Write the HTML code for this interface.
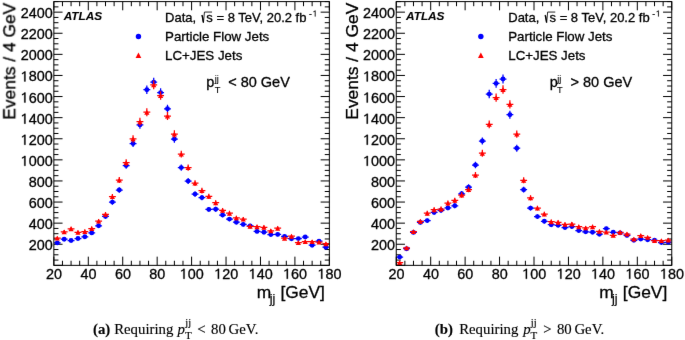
<!DOCTYPE html>
<html><head><meta charset="utf-8"><style>
*{margin:0;padding:0}
html,body{width:685px;height:340px;background:#fff;overflow:hidden}
svg{display:block;will-change:transform}
text{font-family:"Liberation Sans",sans-serif;fill:#000;stroke:#000;stroke-width:0.3px}
.tl{font-size:14.4px}
.at{font-size:17.4px}
.sub{font-size:12.5px;stroke-width:0.2px}
.atlas{font-size:11.8px;font-weight:bold;font-style:italic;stroke-width:0.1px}
.lg{font-size:13px}
.lg2{font-size:13.3px}
.sup{font-size:8.6px;stroke-width:0.15px}
.pl{font-size:14.5px}
.ss{font-size:9.2px;stroke-width:0.1px}
.ssT{font-size:9.3px;stroke-width:0.1px}
.cap{font-family:"Liberation Serif",serif;font-size:14.8px;stroke-width:0.15px}
.b{font-weight:bold}
.i{font-style:italic}
.cs{font-family:"Liberation Serif",serif;font-size:10.5px;stroke-width:0.15px}
.cT{font-family:"Liberation Serif",serif;font-size:11px;stroke-width:0.15px}
</style></head>
<body><svg width="685" height="340" viewBox="0 0 685 340">
<filter id="bl" x="0" y="0" width="685" height="340" filterUnits="userSpaceOnUse" color-interpolation-filters="sRGB"><feConvolveMatrix order="3" kernelMatrix="0.0035 0.0587 0.0035 0.0587 1 0.0587 0.0035 0.0587 0.0035" edgeMode="duplicate"/></filter>
<rect width="685" height="340" fill="#fff"/>
<g filter="url(#bl)">
<rect width="685" height="340" fill="#fff"/>
<clipPath id="c53"><rect x="53.85" y="1.6" width="275.5" height="263.75"/></clipPath>
<path d="M53.85 265.35v-8.7M53.85 1.6v8.7M62.46 265.35v-4.6M62.46 1.6v4.6M71.07 265.35v-4.6M71.07 1.6v4.6M79.68 265.35v-4.6M79.68 1.6v4.6M88.29 265.35v-8.7M88.29 1.6v8.7M96.9 265.35v-4.6M96.9 1.6v4.6M105.51 265.35v-4.6M105.51 1.6v4.6M114.12 265.35v-4.6M114.12 1.6v4.6M122.72 265.35v-8.7M122.72 1.6v8.7M131.33 265.35v-4.6M131.33 1.6v4.6M139.94 265.35v-4.6M139.94 1.6v4.6M148.55 265.35v-4.6M148.55 1.6v4.6M157.16 265.35v-8.7M157.16 1.6v8.7M165.77 265.35v-4.6M165.77 1.6v4.6M174.38 265.35v-4.6M174.38 1.6v4.6M182.99 265.35v-4.6M182.99 1.6v4.6M191.6 265.35v-8.7M191.6 1.6v8.7M200.21 265.35v-4.6M200.21 1.6v4.6M208.82 265.35v-4.6M208.82 1.6v4.6M217.43 265.35v-4.6M217.43 1.6v4.6M226.04 265.35v-8.7M226.04 1.6v8.7M234.65 265.35v-4.6M234.65 1.6v4.6M243.26 265.35v-4.6M243.26 1.6v4.6M251.87 265.35v-4.6M251.87 1.6v4.6M260.48 265.35v-8.7M260.48 1.6v8.7M269.08 265.35v-4.6M269.08 1.6v4.6M277.69 265.35v-4.6M277.69 1.6v4.6M286.3 265.35v-4.6M286.3 1.6v4.6M294.91 265.35v-8.7M294.91 1.6v8.7M303.52 265.35v-4.6M303.52 1.6v4.6M312.13 265.35v-4.6M312.13 1.6v4.6M320.74 265.35v-4.6M320.74 1.6v4.6M329.35 265.35v-8.7M329.35 1.6v8.7M53.85 265.35h8.7M329.35 265.35h-8.7M53.85 260.08h4.6M329.35 260.08h-4.6M53.85 254.8h4.6M329.35 254.8h-4.6M53.85 249.53h4.6M329.35 249.53h-4.6M53.85 244.25h8.7M329.35 244.25h-8.7M53.85 238.98h4.6M329.35 238.98h-4.6M53.85 233.7h4.6M329.35 233.7h-4.6M53.85 228.43h4.6M329.35 228.43h-4.6M53.85 223.15h8.7M329.35 223.15h-8.7M53.85 217.88h4.6M329.35 217.88h-4.6M53.85 212.6h4.6M329.35 212.6h-4.6M53.85 207.33h4.6M329.35 207.33h-4.6M53.85 202.05h8.7M329.35 202.05h-8.7M53.85 196.78h4.6M329.35 196.78h-4.6M53.85 191.5h4.6M329.35 191.5h-4.6M53.85 186.23h4.6M329.35 186.23h-4.6M53.85 180.95h8.7M329.35 180.95h-8.7M53.85 175.68h4.6M329.35 175.68h-4.6M53.85 170.4h4.6M329.35 170.4h-4.6M53.85 165.13h4.6M329.35 165.13h-4.6M53.85 159.85h8.7M329.35 159.85h-8.7M53.85 154.58h4.6M329.35 154.58h-4.6M53.85 149.3h4.6M329.35 149.3h-4.6M53.85 144.03h4.6M329.35 144.03h-4.6M53.85 138.75h8.7M329.35 138.75h-8.7M53.85 133.48h4.6M329.35 133.48h-4.6M53.85 128.2h4.6M329.35 128.2h-4.6M53.85 122.93h4.6M329.35 122.93h-4.6M53.85 117.65h8.7M329.35 117.65h-8.7M53.85 112.38h4.6M329.35 112.38h-4.6M53.85 107.1h4.6M329.35 107.1h-4.6M53.85 101.83h4.6M329.35 101.83h-4.6M53.85 96.55h8.7M329.35 96.55h-8.7M53.85 91.28h4.6M329.35 91.28h-4.6M53.85 86h4.6M329.35 86h-4.6M53.85 80.73h4.6M329.35 80.73h-4.6M53.85 75.45h8.7M329.35 75.45h-8.7M53.85 70.18h4.6M329.35 70.18h-4.6M53.85 64.9h4.6M329.35 64.9h-4.6M53.85 59.63h4.6M329.35 59.63h-4.6M53.85 54.35h8.7M329.35 54.35h-8.7M53.85 49.08h4.6M329.35 49.08h-4.6M53.85 43.8h4.6M329.35 43.8h-4.6M53.85 38.53h4.6M329.35 38.53h-4.6M53.85 33.25h8.7M329.35 33.25h-8.7M53.85 27.98h4.6M329.35 27.98h-4.6M53.85 22.7h4.6M329.35 22.7h-4.6M53.85 17.43h4.6M329.35 17.43h-4.6M53.85 12.15h8.7M329.35 12.15h-8.7M53.85 6.88h4.6M329.35 6.88h-4.6M53.85 1.6h4.6M329.35 1.6h-4.6" stroke="#000" stroke-width="1" fill="none"/>
<g clip-path="url(#c53)">
<path d="M53.85 242.9h6.89M57.29 241.36v3.08M60.74 239.2h6.89M64.18 237.54v3.32M67.62 240.5h6.89M71.07 238.88v3.24M74.51 238.5h6.89M77.96 236.82v3.37M81.4 236.8h6.89M84.84 235.06v3.47M88.29 232.9h6.89M91.73 231.05v3.7M95.18 225.8h6.89M98.62 223.76v4.09M102.06 216.4h6.89M105.51 214.13v4.54M108.95 202.1h6.89M112.39 199.52v5.17M115.84 190h6.89M119.28 187.18v5.64M122.73 165.6h6.89M126.17 162.36v6.49M129.61 143.5h6.89M133.06 139.91v7.17M136.5 124.9h6.89M139.94 121.05v7.7M143.39 89.7h6.89M146.83 85.4v8.61M150.28 82.1h6.89M153.72 77.7v8.79M157.16 92.6h6.89M160.61 88.33v8.54M164.05 108.8h6.89M167.49 104.74v8.13M170.94 139h6.89M174.38 135.35v7.3M177.83 167.6h6.89M181.27 164.39v6.42M184.71 181.1h6.89M188.16 178.12v5.96M191.6 194.1h6.89M195.04 191.36v5.48M198.49 197.6h6.89M201.93 194.93v5.35M205.38 209.4h6.89M208.82 206.97v4.86M212.26 209.2h6.89M215.71 206.77v4.87M219.15 215h6.89M222.59 212.7v4.61M226.04 219.1h6.89M229.48 216.89v4.42M232.93 222.2h6.89M236.37 220.07v4.27M239.81 224.4h6.89M243.26 222.32v4.16M246.7 225.9h6.89M250.14 223.86v4.08M253.59 231.4h6.89M257.03 229.51v3.79M260.47 232.2h6.89M263.92 230.33v3.74M267.36 234.6h6.89M270.81 232.8v3.6M274.25 234.4h6.89M277.69 232.59v3.61M281.14 236.4h6.89M284.58 234.65v3.5M288.02 238.7h6.89M291.47 237.02v3.35M294.91 238.6h6.89M298.36 236.92v3.36M301.8 237h6.89M305.24 235.27v3.46M308.69 245.2h6.89M312.13 243.74v2.92M315.57 241.1h6.89M319.02 239.5v3.2M322.46 247.2h6.89M325.91 245.82v2.77" stroke="#00f" stroke-width="1.25" fill="none"/>
<g fill="#00f"><circle cx="57.29" cy="242.9" r="2.45"/><circle cx="64.18" cy="239.2" r="2.45"/><circle cx="71.07" cy="240.5" r="2.45"/><circle cx="77.96" cy="238.5" r="2.45"/><circle cx="84.84" cy="236.8" r="2.45"/><circle cx="91.73" cy="232.9" r="2.45"/><circle cx="98.62" cy="225.8" r="2.45"/><circle cx="105.51" cy="216.4" r="2.45"/><circle cx="112.39" cy="202.1" r="2.45"/><circle cx="119.28" cy="190" r="2.45"/><circle cx="126.17" cy="165.6" r="2.45"/><circle cx="133.06" cy="143.5" r="2.45"/><circle cx="139.94" cy="124.9" r="2.45"/><circle cx="146.83" cy="89.7" r="2.45"/><circle cx="153.72" cy="82.1" r="2.45"/><circle cx="160.61" cy="92.6" r="2.45"/><circle cx="167.49" cy="108.8" r="2.45"/><circle cx="174.38" cy="139" r="2.45"/><circle cx="181.27" cy="167.6" r="2.45"/><circle cx="188.16" cy="181.1" r="2.45"/><circle cx="195.04" cy="194.1" r="2.45"/><circle cx="201.93" cy="197.6" r="2.45"/><circle cx="208.82" cy="209.4" r="2.45"/><circle cx="215.71" cy="209.2" r="2.45"/><circle cx="222.59" cy="215" r="2.45"/><circle cx="229.48" cy="219.1" r="2.45"/><circle cx="236.37" cy="222.2" r="2.45"/><circle cx="243.26" cy="224.4" r="2.45"/><circle cx="250.14" cy="225.9" r="2.45"/><circle cx="257.03" cy="231.4" r="2.45"/><circle cx="263.92" cy="232.2" r="2.45"/><circle cx="270.81" cy="234.6" r="2.45"/><circle cx="277.69" cy="234.4" r="2.45"/><circle cx="284.58" cy="236.4" r="2.45"/><circle cx="291.47" cy="238.7" r="2.45"/><circle cx="298.36" cy="238.6" r="2.45"/><circle cx="305.24" cy="237" r="2.45"/><circle cx="312.13" cy="245.2" r="2.45"/><circle cx="319.02" cy="241.1" r="2.45"/><circle cx="325.91" cy="247.2" r="2.45"/></g>
<path d="M53.85 238.1h6.89M57.29 236.4v3.39M60.74 231.9h6.89M64.18 230.02v3.76M67.62 228.8h6.89M71.07 226.84v3.93M74.51 232.3h6.89M77.96 230.43v3.73M81.4 231.5h6.89M84.84 229.61v3.78M88.29 228.5h6.89M91.73 226.53v3.94M95.18 221.1h6.89M98.62 218.94v4.32M102.06 214.4h6.89M105.51 212.08v4.64M108.95 196.6h6.89M112.39 193.91v5.39M115.84 180h6.89M119.28 177v6M122.73 162.6h6.89M126.17 159.31v6.58M129.61 138.9h6.89M133.06 135.25v7.3M136.5 121.7h6.89M139.94 117.81v7.79M143.39 112.2h6.89M146.83 108.18v8.04M150.28 84.9h6.89M153.72 80.54v8.73M157.16 95.5h6.89M160.61 91.27v8.47M164.05 116h6.89M167.49 112.03v7.94M170.94 134h6.89M174.38 130.28v7.45M177.83 154.1h6.89M181.27 150.67v6.85M184.71 167.6h6.89M188.16 164.39v6.42M191.6 183.1h6.89M195.04 180.15v5.89M198.49 190.6h6.89M201.93 187.79v5.62M205.38 196.4h6.89M208.82 193.7v5.39M212.26 202.7h6.89M215.71 200.13v5.14M219.15 210.3h6.89M222.59 207.89v4.82M226.04 213.2h6.89M229.48 210.85v4.69M232.93 217.9h6.89M236.37 215.66v4.47M239.81 219.1h6.89M243.26 216.89v4.42M246.7 226.4h6.89M250.14 224.37v4.05M253.59 226.7h6.89M257.03 224.68v4.04M260.47 227.3h6.89M263.92 225.3v4.01M267.36 230.8h6.89M270.81 228.89v3.82M274.25 228.2h6.89M277.69 226.22v3.96M281.14 238.2h6.89M284.58 236.51v3.38M288.02 236.2h6.89M291.47 234.45v3.51M294.91 242.5h6.89M298.36 240.95v3.11M301.8 241.6h6.89M305.24 240.02v3.17M308.69 241.6h6.89M312.13 240.02v3.17M315.57 242.1h6.89M319.02 240.53v3.13M322.46 243.7h6.89M325.91 242.19v3.02" stroke="#f00" stroke-width="1.25" fill="none"/>
<path d="M57.29 235.65L59.89 240.55L54.69 240.55ZM64.18 229.45L66.78 234.35L61.58 234.35ZM71.07 226.35L73.67 231.25L68.47 231.25ZM77.96 229.85L80.56 234.75L75.36 234.75ZM84.84 229.05L87.44 233.95L82.24 233.95ZM91.73 226.05L94.33 230.95L89.13 230.95ZM98.62 218.65L101.22 223.55L96.02 223.55ZM105.51 211.95L108.11 216.85L102.91 216.85ZM112.39 194.15L114.99 199.05L109.79 199.05ZM119.28 177.55L121.88 182.45L116.68 182.45ZM126.17 160.15L128.77 165.05L123.57 165.05ZM133.06 136.45L135.66 141.35L130.46 141.35ZM139.94 119.25L142.54 124.15L137.34 124.15ZM146.83 109.75L149.43 114.65L144.23 114.65ZM153.72 82.45L156.32 87.35L151.12 87.35ZM160.61 93.05L163.21 97.95L158.01 97.95ZM167.49 113.55L170.09 118.45L164.89 118.45ZM174.38 131.55L176.98 136.45L171.78 136.45ZM181.27 151.65L183.87 156.55L178.67 156.55ZM188.16 165.15L190.76 170.05L185.56 170.05ZM195.04 180.65L197.64 185.55L192.44 185.55ZM201.93 188.15L204.53 193.05L199.33 193.05ZM208.82 193.95L211.42 198.85L206.22 198.85ZM215.71 200.25L218.31 205.15L213.11 205.15ZM222.59 207.85L225.19 212.75L219.99 212.75ZM229.48 210.75L232.08 215.65L226.88 215.65ZM236.37 215.45L238.97 220.35L233.77 220.35ZM243.26 216.65L245.86 221.55L240.66 221.55ZM250.14 223.95L252.74 228.85L247.54 228.85ZM257.03 224.25L259.63 229.15L254.43 229.15ZM263.92 224.85L266.52 229.75L261.32 229.75ZM270.81 228.35L273.41 233.25L268.21 233.25ZM277.69 225.75L280.29 230.65L275.09 230.65ZM284.58 235.75L287.18 240.65L281.98 240.65ZM291.47 233.75L294.07 238.65L288.87 238.65ZM298.36 240.05L300.96 244.95L295.76 244.95ZM305.24 239.15L307.84 244.05L302.64 244.05ZM312.13 239.15L314.73 244.05L309.53 244.05ZM319.02 239.65L321.62 244.55L316.42 244.55ZM325.91 241.25L328.51 246.15L323.31 246.15Z" fill="#f00"/>
</g>
<rect x="53.85" y="1.6" width="275.5" height="263.75" fill="none" stroke="#000" stroke-width="1"/>
<text class="tl" x="28.66" y="250.25">200</text>
<text class="tl" x="28.66" y="229.15">400</text>
<text class="tl" x="28.66" y="208.05">600</text>
<text class="tl" x="28.66" y="186.95">800</text>
<text class="tl" x="28.66" y="165.85">000</text><path d="M25.48 165.85L25.48 155.91L24.43 155.91L23.54 156.71L22.02 157.57L22.02 158.58L24.26 157.43L24.26 165.85Z" fill="#000" stroke="#000" stroke-width="0.3"/>
<text class="tl" x="28.66" y="144.75">200</text><path d="M25.48 144.75L25.48 134.81L24.43 134.81L23.54 135.61L22.02 136.47L22.02 137.48L24.26 136.33L24.26 144.75Z" fill="#000" stroke="#000" stroke-width="0.3"/>
<text class="tl" x="28.66" y="123.65">400</text><path d="M25.48 123.65L25.48 113.71L24.43 113.71L23.54 114.51L22.02 115.37L22.02 116.38L24.26 115.23L24.26 123.65Z" fill="#000" stroke="#000" stroke-width="0.3"/>
<text class="tl" x="28.66" y="102.55">600</text><path d="M25.48 102.55L25.48 92.61L24.43 92.61L23.54 93.41L22.02 94.27L22.02 95.28L24.26 94.13L24.26 102.55Z" fill="#000" stroke="#000" stroke-width="0.3"/>
<text class="tl" x="28.66" y="81.45">800</text><path d="M25.48 81.45L25.48 71.51L24.43 71.51L23.54 72.31L22.02 73.17L22.02 74.18L24.26 73.03L24.26 81.45Z" fill="#000" stroke="#000" stroke-width="0.3"/>
<text class="tl" x="20.66" y="60.35">2000</text>
<text class="tl" x="20.66" y="39.25">2200</text>
<text class="tl" x="20.66" y="18.15">2400</text>
<text class="tl" x="46.04" y="278.8">20</text>
<text class="tl" x="80.48" y="278.8">40</text>
<text class="tl" x="114.92" y="278.8">60</text>
<text class="tl" x="149.36" y="278.8">80</text>
<text class="tl" x="187.8" y="278.8">00</text><path d="M184.61 278.8L184.61 268.86L183.56 268.86L182.67 269.66L181.16 270.52L181.16 271.53L183.39 270.38L183.39 278.8Z" fill="#000" stroke="#000" stroke-width="0.3"/>
<text class="tl" x="222.23" y="278.8">20</text><path d="M219.05 278.8L219.05 268.86L218 268.86L217.11 269.66L215.6 270.52L215.6 271.53L217.83 270.38L217.83 278.8Z" fill="#000" stroke="#000" stroke-width="0.3"/>
<text class="tl" x="256.67" y="278.8">40</text><path d="M253.49 278.8L253.49 268.86L252.44 268.86L251.55 269.66L250.03 270.52L250.03 271.53L252.27 270.38L252.27 278.8Z" fill="#000" stroke="#000" stroke-width="0.3"/>
<text class="tl" x="291.11" y="278.8">60</text><path d="M287.93 278.8L287.93 268.86L286.88 268.86L285.98 269.66L284.47 270.52L284.47 271.53L286.7 270.38L286.7 278.8Z" fill="#000" stroke="#000" stroke-width="0.3"/>
<text class="tl" x="325.55" y="278.8">80</text><path d="M322.36 278.8L322.36 268.86L321.31 268.86L320.42 269.66L318.91 270.52L318.91 271.53L321.14 270.38L321.14 278.8Z" fill="#000" stroke="#000" stroke-width="0.3"/>
<text class="at" transform="translate(15.25,119.7) rotate(-90)">Events / 4 GeV</text>
<text class="at" x="256.75" y="298.1">m</text>
<text class="sub" x="269.65" y="302.8">jj</text>
<text class="at" x="280.45" y="298.1">[GeV]</text>
<text class="atlas" x="63.65" y="19.9">ATLAS</text>
<text class="lg" x="165.05" y="21.8">Data,</text>
<path d="M201.45 15.7L202.25 15.3L203.45 22.6L204.45 12.05H212.05" stroke="#000" stroke-width="0.85" fill="none"/>
<path d="M202.15 15.4L203.35 22.4" stroke="#000" stroke-width="1.3" fill="none"/>
<text class="lg" x="206.35" y="21.8">s = 8 TeV, 20.2 fb</text>
<text class="sup" x="309.05" y="16.5">-</text>
<path d="M315.53 16.5L315.53 10.57L314.9 10.57L314.37 11.04L313.47 11.55L313.47 12.16L314.8 11.47L314.8 16.5Z" fill="#000" stroke="#000" stroke-width="0.15"/>
<circle cx="138.45" cy="36.5" r="2.7" fill="#00f"/>
<text class="lg2" x="165.05" y="41.1">Particle Flow Jets</text>
<path d="M138.45 52.6L141.3 57.9L135.6 57.9Z" fill="#f00"/>
<text class="lg2" x="165.05" y="60">LC+JES Jets</text>
<text class="pl" x="206.35" y="86.6">p</text>
<text class="ss" x="214.75" y="81.9">jj</text>
<text class="ssT" x="214.65" y="93">T</text>
<text class="pl" x="228.15" y="86.6">&lt; 80 GeV</text>
<clipPath id="c396"><rect x="396.25" y="1.6" width="275.5" height="263.75"/></clipPath>
<path d="M396.25 265.35v-8.7M396.25 1.6v8.7M404.86 265.35v-4.6M404.86 1.6v4.6M413.47 265.35v-4.6M413.47 1.6v4.6M422.08 265.35v-4.6M422.08 1.6v4.6M430.69 265.35v-8.7M430.69 1.6v8.7M439.3 265.35v-4.6M439.3 1.6v4.6M447.91 265.35v-4.6M447.91 1.6v4.6M456.52 265.35v-4.6M456.52 1.6v4.6M465.12 265.35v-8.7M465.12 1.6v8.7M473.73 265.35v-4.6M473.73 1.6v4.6M482.34 265.35v-4.6M482.34 1.6v4.6M490.95 265.35v-4.6M490.95 1.6v4.6M499.56 265.35v-8.7M499.56 1.6v8.7M508.17 265.35v-4.6M508.17 1.6v4.6M516.78 265.35v-4.6M516.78 1.6v4.6M525.39 265.35v-4.6M525.39 1.6v4.6M534 265.35v-8.7M534 1.6v8.7M542.61 265.35v-4.6M542.61 1.6v4.6M551.22 265.35v-4.6M551.22 1.6v4.6M559.83 265.35v-4.6M559.83 1.6v4.6M568.44 265.35v-8.7M568.44 1.6v8.7M577.05 265.35v-4.6M577.05 1.6v4.6M585.66 265.35v-4.6M585.66 1.6v4.6M594.27 265.35v-4.6M594.27 1.6v4.6M602.88 265.35v-8.7M602.88 1.6v8.7M611.48 265.35v-4.6M611.48 1.6v4.6M620.09 265.35v-4.6M620.09 1.6v4.6M628.7 265.35v-4.6M628.7 1.6v4.6M637.31 265.35v-8.7M637.31 1.6v8.7M645.92 265.35v-4.6M645.92 1.6v4.6M654.53 265.35v-4.6M654.53 1.6v4.6M663.14 265.35v-4.6M663.14 1.6v4.6M671.75 265.35v-8.7M671.75 1.6v8.7M396.25 265.35h8.7M671.75 265.35h-8.7M396.25 260.08h4.6M671.75 260.08h-4.6M396.25 254.8h4.6M671.75 254.8h-4.6M396.25 249.53h4.6M671.75 249.53h-4.6M396.25 244.25h8.7M671.75 244.25h-8.7M396.25 238.98h4.6M671.75 238.98h-4.6M396.25 233.7h4.6M671.75 233.7h-4.6M396.25 228.43h4.6M671.75 228.43h-4.6M396.25 223.15h8.7M671.75 223.15h-8.7M396.25 217.88h4.6M671.75 217.88h-4.6M396.25 212.6h4.6M671.75 212.6h-4.6M396.25 207.33h4.6M671.75 207.33h-4.6M396.25 202.05h8.7M671.75 202.05h-8.7M396.25 196.78h4.6M671.75 196.78h-4.6M396.25 191.5h4.6M671.75 191.5h-4.6M396.25 186.23h4.6M671.75 186.23h-4.6M396.25 180.95h8.7M671.75 180.95h-8.7M396.25 175.68h4.6M671.75 175.68h-4.6M396.25 170.4h4.6M671.75 170.4h-4.6M396.25 165.13h4.6M671.75 165.13h-4.6M396.25 159.85h8.7M671.75 159.85h-8.7M396.25 154.58h4.6M671.75 154.58h-4.6M396.25 149.3h4.6M671.75 149.3h-4.6M396.25 144.03h4.6M671.75 144.03h-4.6M396.25 138.75h8.7M671.75 138.75h-8.7M396.25 133.48h4.6M671.75 133.48h-4.6M396.25 128.2h4.6M671.75 128.2h-4.6M396.25 122.93h4.6M671.75 122.93h-4.6M396.25 117.65h8.7M671.75 117.65h-8.7M396.25 112.38h4.6M671.75 112.38h-4.6M396.25 107.1h4.6M671.75 107.1h-4.6M396.25 101.83h4.6M671.75 101.83h-4.6M396.25 96.55h8.7M671.75 96.55h-8.7M396.25 91.28h4.6M671.75 91.28h-4.6M396.25 86h4.6M671.75 86h-4.6M396.25 80.73h4.6M671.75 80.73h-4.6M396.25 75.45h8.7M671.75 75.45h-8.7M396.25 70.18h4.6M671.75 70.18h-4.6M396.25 64.9h4.6M671.75 64.9h-4.6M396.25 59.63h4.6M671.75 59.63h-4.6M396.25 54.35h8.7M671.75 54.35h-8.7M396.25 49.08h4.6M671.75 49.08h-4.6M396.25 43.8h4.6M671.75 43.8h-4.6M396.25 38.53h4.6M671.75 38.53h-4.6M396.25 33.25h8.7M671.75 33.25h-8.7M396.25 27.98h4.6M671.75 27.98h-4.6M396.25 22.7h4.6M671.75 22.7h-4.6M396.25 17.43h4.6M671.75 17.43h-4.6M396.25 12.15h8.7M671.75 12.15h-8.7M396.25 6.88h4.6M671.75 6.88h-4.6M396.25 1.6h4.6M671.75 1.6h-4.6" stroke="#000" stroke-width="1" fill="none"/>
<g clip-path="url(#c396)">
<path d="M396.25 257.1h6.89M399.69 256.17v1.87M403.14 248.7h6.89M406.58 247.37v2.65M410.02 232.4h6.89M413.47 230.54v3.73M416.91 222.4h6.89M420.36 220.27v4.26M423.8 220.6h6.89M427.24 218.43v4.35M430.69 212.4h6.89M434.13 210.04v4.73M437.57 210.3h6.89M441.02 207.89v4.82M444.46 207.9h6.89M447.91 205.44v4.92M451.35 205.8h6.89M454.79 203.29v5.01M458.24 193.8h6.89M461.68 191.05v5.49M465.12 187.2h6.89M468.57 184.33v5.74M472.01 165h6.89M475.46 161.75v6.51M478.9 141h6.89M482.34 137.38v7.24M485.79 94.1h6.89M489.23 89.85v8.5M492.67 83.4h6.89M496.12 79.02v8.76M499.56 79h6.89M503.01 74.57v8.87M506.45 114.7h6.89M509.89 110.71v7.97M513.34 148.2h6.89M516.78 144.68v7.03M520.23 189.7h6.89M523.67 186.87v5.65M527.11 208.1h6.89M530.56 205.64v4.92M534 216.6h6.89M537.44 214.33v4.54M540.89 221.3h6.89M544.33 219.14v4.31M547.77 224.7h6.89M551.22 222.63v4.14M554.66 225.3h6.89M558.11 223.24v4.11M561.55 227.6h6.89M564.99 225.6v3.99M568.44 226.5h6.89M571.88 224.48v4.05M575.32 230.6h6.89M578.77 228.69v3.83M582.21 231.8h6.89M585.66 229.92v3.76M589.1 232.2h6.89M592.54 230.33v3.74M595.99 234.2h6.89M599.43 232.39v3.63M602.88 228.6h6.89M606.32 226.63v3.94M609.76 232.3h6.89M613.21 230.43v3.73M616.65 232.9h6.89M620.09 231.05v3.7M623.54 235.4h6.89M626.98 233.62v3.56M630.42 240.3h6.89M633.87 238.67v3.25M637.31 239.1h6.89M640.76 237.44v3.33M644.2 239.7h6.89M647.64 238.05v3.29M651.09 240.3h6.89M654.53 238.67v3.25M657.98 242.6h6.89M661.42 241.05v3.1M664.86 242.3h6.89M668.31 240.74v3.12" stroke="#00f" stroke-width="1.25" fill="none"/>
<g fill="#00f"><circle cx="399.69" cy="257.1" r="2.45"/><circle cx="406.58" cy="248.7" r="2.45"/><circle cx="413.47" cy="232.4" r="2.45"/><circle cx="420.36" cy="222.4" r="2.45"/><circle cx="427.24" cy="220.6" r="2.45"/><circle cx="434.13" cy="212.4" r="2.45"/><circle cx="441.02" cy="210.3" r="2.45"/><circle cx="447.91" cy="207.9" r="2.45"/><circle cx="454.79" cy="205.8" r="2.45"/><circle cx="461.68" cy="193.8" r="2.45"/><circle cx="468.57" cy="187.2" r="2.45"/><circle cx="475.46" cy="165" r="2.45"/><circle cx="482.34" cy="141" r="2.45"/><circle cx="489.23" cy="94.1" r="2.45"/><circle cx="496.12" cy="83.4" r="2.45"/><circle cx="503.01" cy="79" r="2.45"/><circle cx="509.89" cy="114.7" r="2.45"/><circle cx="516.78" cy="148.2" r="2.45"/><circle cx="523.67" cy="189.7" r="2.45"/><circle cx="530.56" cy="208.1" r="2.45"/><circle cx="537.44" cy="216.6" r="2.45"/><circle cx="544.33" cy="221.3" r="2.45"/><circle cx="551.22" cy="224.7" r="2.45"/><circle cx="558.11" cy="225.3" r="2.45"/><circle cx="564.99" cy="227.6" r="2.45"/><circle cx="571.88" cy="226.5" r="2.45"/><circle cx="578.77" cy="230.6" r="2.45"/><circle cx="585.66" cy="231.8" r="2.45"/><circle cx="592.54" cy="232.2" r="2.45"/><circle cx="599.43" cy="234.2" r="2.45"/><circle cx="606.32" cy="228.6" r="2.45"/><circle cx="613.21" cy="232.3" r="2.45"/><circle cx="620.09" cy="232.9" r="2.45"/><circle cx="626.98" cy="235.4" r="2.45"/><circle cx="633.87" cy="240.3" r="2.45"/><circle cx="640.76" cy="239.1" r="2.45"/><circle cx="647.64" cy="239.7" r="2.45"/><circle cx="654.53" cy="240.3" r="2.45"/><circle cx="661.42" cy="242.6" r="2.45"/><circle cx="668.31" cy="242.3" r="2.45"/></g>
<path d="M396.25 262.5h6.89M399.69 261.95v1.1M403.14 247.9h6.89M406.58 246.54v2.71M410.02 231.6h6.89M413.47 229.71v3.77M416.91 221.4h6.89M420.36 219.25v4.31M423.8 213.2h6.89M427.24 210.85v4.69M430.69 209.7h6.89M434.13 207.28v4.85M437.57 209h6.89M441.02 206.56v4.88M444.46 203.1h6.89M447.91 200.54v5.13M451.35 200.3h6.89M454.79 197.68v5.24M458.24 195h6.89M461.68 192.28v5.45M465.12 189.5h6.89M468.57 186.67v5.66M472.01 175h6.89M475.46 171.91v6.17M478.9 153.2h6.89M482.34 149.76v6.88M485.79 124.3h6.89M489.23 120.44v7.72M492.67 97.6h6.89M496.12 93.39v8.41M499.56 89.5h6.89M503.01 85.19v8.61M506.45 104.3h6.89M509.89 100.18v8.24M513.34 134.1h6.89M516.78 130.38v7.44M520.23 180.3h6.89M523.67 177.3v5.99M527.11 197.8h6.89M530.56 195.13v5.34M534 208.1h6.89M537.44 205.64v4.92M540.89 214h6.89M544.33 211.67v4.66M547.77 221.7h6.89M551.22 219.55v4.29M554.66 222.3h6.89M558.11 220.17v4.26M561.55 224.4h6.89M564.99 222.32v4.16M568.44 224h6.89M571.88 221.91v4.18M575.32 226.7h6.89M578.77 224.68v4.04M582.21 227.9h6.89M585.66 225.91v3.98M589.1 226.7h6.89M592.54 224.68v4.04M595.99 231.4h6.89M599.43 229.51v3.79M602.88 232.1h6.89M606.32 230.23v3.75M609.76 235.3h6.89M613.21 233.52v3.56M616.65 232.3h6.89M620.09 230.43v3.73M623.54 234h6.89M626.98 232.18v3.64M630.42 239.1h6.89M633.87 237.44v3.33M637.31 235.6h6.89M640.76 233.83v3.54M644.2 237.4h6.89M647.64 235.68v3.43M651.09 240.6h6.89M654.53 238.98v3.23M657.98 240.6h6.89M661.42 238.98v3.23M664.86 240h6.89M668.31 238.36v3.27" stroke="#f00" stroke-width="1.25" fill="none"/>
<path d="M399.69 260.05L402.29 264.95L397.09 264.95ZM406.58 245.45L409.18 250.35L403.98 250.35ZM413.47 229.15L416.07 234.05L410.87 234.05ZM420.36 218.95L422.96 223.85L417.76 223.85ZM427.24 210.75L429.84 215.65L424.64 215.65ZM434.13 207.25L436.73 212.15L431.53 212.15ZM441.02 206.55L443.62 211.45L438.42 211.45ZM447.91 200.65L450.51 205.55L445.31 205.55ZM454.79 197.85L457.39 202.75L452.19 202.75ZM461.68 192.55L464.28 197.45L459.08 197.45ZM468.57 187.05L471.17 191.95L465.97 191.95ZM475.46 172.55L478.06 177.45L472.86 177.45ZM482.34 150.75L484.94 155.65L479.74 155.65ZM489.23 121.85L491.83 126.75L486.63 126.75ZM496.12 95.15L498.72 100.05L493.52 100.05ZM503.01 87.05L505.61 91.95L500.41 91.95ZM509.89 101.85L512.49 106.75L507.29 106.75ZM516.78 131.65L519.38 136.55L514.18 136.55ZM523.67 177.85L526.27 182.75L521.07 182.75ZM530.56 195.35L533.16 200.25L527.96 200.25ZM537.44 205.65L540.04 210.55L534.84 210.55ZM544.33 211.55L546.93 216.45L541.73 216.45ZM551.22 219.25L553.82 224.15L548.62 224.15ZM558.11 219.85L560.71 224.75L555.51 224.75ZM564.99 221.95L567.59 226.85L562.39 226.85ZM571.88 221.55L574.48 226.45L569.28 226.45ZM578.77 224.25L581.37 229.15L576.17 229.15ZM585.66 225.45L588.26 230.35L583.06 230.35ZM592.54 224.25L595.14 229.15L589.94 229.15ZM599.43 228.95L602.03 233.85L596.83 233.85ZM606.32 229.65L608.92 234.55L603.72 234.55ZM613.21 232.85L615.81 237.75L610.61 237.75ZM620.09 229.85L622.69 234.75L617.49 234.75ZM626.98 231.55L629.58 236.45L624.38 236.45ZM633.87 236.65L636.47 241.55L631.27 241.55ZM640.76 233.15L643.36 238.05L638.16 238.05ZM647.64 234.95L650.24 239.85L645.04 239.85ZM654.53 238.15L657.13 243.05L651.93 243.05ZM661.42 238.15L664.02 243.05L658.82 243.05ZM668.31 237.55L670.91 242.45L665.71 242.45Z" fill="#f00"/>
</g>
<rect x="396.25" y="1.6" width="275.5" height="263.75" fill="none" stroke="#000" stroke-width="1"/>
<text class="tl" x="371.06" y="250.25">200</text>
<text class="tl" x="371.06" y="229.15">400</text>
<text class="tl" x="371.06" y="208.05">600</text>
<text class="tl" x="371.06" y="186.95">800</text>
<text class="tl" x="371.06" y="165.85">000</text><path d="M367.88 165.85L367.88 155.91L366.83 155.91L365.94 156.71L364.42 157.57L364.42 158.58L366.66 157.43L366.66 165.85Z" fill="#000" stroke="#000" stroke-width="0.3"/>
<text class="tl" x="371.06" y="144.75">200</text><path d="M367.88 144.75L367.88 134.81L366.83 134.81L365.94 135.61L364.42 136.47L364.42 137.48L366.66 136.33L366.66 144.75Z" fill="#000" stroke="#000" stroke-width="0.3"/>
<text class="tl" x="371.06" y="123.65">400</text><path d="M367.88 123.65L367.88 113.71L366.83 113.71L365.94 114.51L364.42 115.37L364.42 116.38L366.66 115.23L366.66 123.65Z" fill="#000" stroke="#000" stroke-width="0.3"/>
<text class="tl" x="371.06" y="102.55">600</text><path d="M367.88 102.55L367.88 92.61L366.83 92.61L365.94 93.41L364.42 94.27L364.42 95.28L366.66 94.13L366.66 102.55Z" fill="#000" stroke="#000" stroke-width="0.3"/>
<text class="tl" x="371.06" y="81.45">800</text><path d="M367.88 81.45L367.88 71.51L366.83 71.51L365.94 72.31L364.42 73.17L364.42 74.18L366.66 73.03L366.66 81.45Z" fill="#000" stroke="#000" stroke-width="0.3"/>
<text class="tl" x="363.06" y="60.35">2000</text>
<text class="tl" x="363.06" y="39.25">2200</text>
<text class="tl" x="363.06" y="18.15">2400</text>
<text class="tl" x="388.44" y="278.8">20</text>
<text class="tl" x="422.88" y="278.8">40</text>
<text class="tl" x="457.32" y="278.8">60</text>
<text class="tl" x="491.76" y="278.8">80</text>
<text class="tl" x="530.2" y="278.8">00</text><path d="M527.01 278.8L527.01 268.86L525.96 268.86L525.07 269.66L523.56 270.52L523.56 271.53L525.79 270.38L525.79 278.8Z" fill="#000" stroke="#000" stroke-width="0.3"/>
<text class="tl" x="564.63" y="278.8">20</text><path d="M561.45 278.8L561.45 268.86L560.4 268.86L559.51 269.66L558 270.52L558 271.53L560.23 270.38L560.23 278.8Z" fill="#000" stroke="#000" stroke-width="0.3"/>
<text class="tl" x="599.07" y="278.8">40</text><path d="M595.89 278.8L595.89 268.86L594.84 268.86L593.95 269.66L592.43 270.52L592.43 271.53L594.67 270.38L594.67 278.8Z" fill="#000" stroke="#000" stroke-width="0.3"/>
<text class="tl" x="633.51" y="278.8">60</text><path d="M630.33 278.8L630.33 268.86L629.28 268.86L628.38 269.66L626.87 270.52L626.87 271.53L629.1 270.38L629.1 278.8Z" fill="#000" stroke="#000" stroke-width="0.3"/>
<text class="tl" x="667.95" y="278.8">80</text><path d="M664.76 278.8L664.76 268.86L663.71 268.86L662.82 269.66L661.31 270.52L661.31 271.53L663.54 270.38L663.54 278.8Z" fill="#000" stroke="#000" stroke-width="0.3"/>
<text class="at" transform="translate(357.65,119.7) rotate(-90)">Events / 4 GeV</text>
<text class="at" x="599.15" y="298.1">m</text>
<text class="sub" x="612.05" y="302.8">jj</text>
<text class="at" x="622.85" y="298.1">[GeV]</text>
<text class="atlas" x="406.05" y="19.9">ATLAS</text>
<text class="lg" x="508.25" y="21.8">Data,</text>
<path d="M544.65 15.7L545.45 15.3L546.65 22.6L547.65 12.05H555.25" stroke="#000" stroke-width="0.85" fill="none"/>
<path d="M545.35 15.4L546.55 22.4" stroke="#000" stroke-width="1.3" fill="none"/>
<text class="lg" x="549.55" y="21.8">s = 8 TeV, 20.2 fb</text>
<text class="sup" x="652.25" y="16.5">-</text>
<path d="M658.73 16.5L658.73 10.57L658.1 10.57L657.57 11.04L656.67 11.55L656.67 12.16L658 11.47L658 16.5Z" fill="#000" stroke="#000" stroke-width="0.15"/>
<circle cx="480.85" cy="36.5" r="2.7" fill="#00f"/>
<text class="lg2" x="508.25" y="41.1">Particle Flow Jets</text>
<path d="M480.85 52.6L483.7 57.9L478 57.9Z" fill="#f00"/>
<text class="lg2" x="508.25" y="60">LC+JES Jets</text>
<text class="pl" x="549.65" y="86.6">p</text>
<text class="ss" x="557.15" y="81.9">jj</text>
<text class="ssT" x="557.05" y="93">T</text>
<text class="pl" x="570.55" y="86.6">&gt; 80 GeV</text>
<text class="cap b" x="93" y="333.9">(a)</text>
<text class="cap" x="114.2" y="333.9">Requiring</text>
<text class="cap i" x="177.5" y="333.9">p</text>
<text class="cs" x="185.3" y="325.9">jj</text>
<text class="cT" x="185.1" y="339.4">T</text>
<text class="cap" x="197.3" y="333.9">&lt;</text>
<text class="cap" x="211" y="333.9">80</text>
<text class="cap" x="228.6" y="333.9">GeV.</text>
<text class="cap b" x="434.8" y="333.9">(b)</text>
<text class="cap" x="459.2" y="333.9">Requiring</text>
<text class="cap i" x="523.2" y="333.9">p</text>
<text class="cs" x="530.8" y="325.9">jj</text>
<text class="cT" x="530.6" y="339.4">T</text>
<text class="cap" x="543.3" y="333.9">&gt;</text>
<text class="cap" x="556.9" y="333.9">80</text>
<text class="cap" x="574.4" y="333.9">GeV.</text>
</g>
</svg></body></html>
